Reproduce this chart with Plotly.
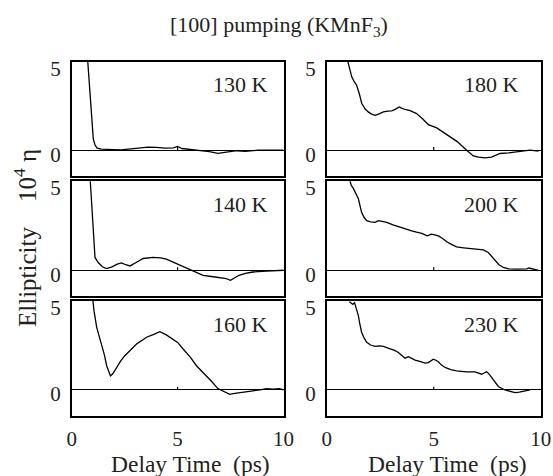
import plotly.graph_objects as go

# ---- data (delay time in ps, ellipticity in 1e-4) ----
t130 = [0.75, 0.85, 0.95, 1.02, 1.1, 1.2, 1.4, 1.8, 2.3, 2.8, 3.2, 3.6, 4.0, 4.4, 4.8, 5.0, 5.2, 5.6, 6.0, 6.5, 6.9, 7.1, 7.4, 7.8, 8.2, 8.8, 9.4, 10.0]
e130 = [5.3, 3.7, 1.8, 0.65, 0.3, 0.12, 0.06, 0.03, 0.02, 0.08, 0.12, 0.18, 0.16, 0.12, 0.14, 0.22, 0.1, 0.05, 0.0, -0.08, -0.18, -0.15, -0.1, -0.03, -0.06, 0.0, 0.0, 0.0]

t140 = [0.87, 0.95, 1.02, 1.1, 1.25, 1.45, 1.65, 1.9, 2.15, 2.35, 2.55, 2.75, 3.0, 3.37, 3.85, 4.2, 4.47, 4.7, 4.95, 5.2, 5.5, 5.85, 6.2, 6.6, 6.98, 7.3, 7.5, 7.7, 7.9, 8.2, 8.55, 9.2, 10.0]
e140 = [5.3, 3.5, 1.8, 0.74, 0.45, 0.2, 0.1, 0.2, 0.35, 0.42, 0.32, 0.25, 0.42, 0.68, 0.74, 0.72, 0.64, 0.52, 0.39, 0.25, 0.06, -0.12, -0.29, -0.36, -0.43, -0.48, -0.58, -0.42, -0.29, -0.18, -0.1, -0.05, 0.0]

t160 = [0.99, 1.05, 1.18, 1.3, 1.41, 1.55, 1.65, 1.75, 1.83, 1.95, 2.12, 2.3, 2.51, 2.8, 3.06, 3.3, 3.53, 3.85, 4.16, 4.45, 4.79, 5.0, 5.26, 5.6, 5.89, 6.1, 6.36, 6.6, 6.9, 7.2, 7.46, 7.7, 7.93, 8.2, 8.56, 8.9, 9.19, 9.5, 9.8, 10.0]
e160 = [5.3, 4.6, 3.62, 3.1, 2.66, 2.0, 1.4, 1.0, 0.81, 0.95, 1.3, 1.65, 1.98, 2.35, 2.66, 2.85, 3.05, 3.2, 3.37, 3.2, 2.95, 2.75, 2.37, 1.9, 1.4, 1.15, 0.81, 0.5, 0.08, -0.1, -0.25, -0.2, -0.15, -0.12, -0.05, 0.0, 0.08, 0.05, 0.08, 0.0]

t180 = [0.96, 1.05, 1.17, 1.28, 1.4, 1.52, 1.64, 1.8, 1.94, 2.1, 2.26, 2.45, 2.65, 2.85, 3.04, 3.2, 3.39, 3.5, 3.66, 3.9, 4.2, 4.5, 4.75, 5.14, 5.45, 5.76, 6.1, 6.54, 6.7, 6.85, 7.1, 7.4, 7.7, 8.1, 8.5, 8.88, 9.2, 9.5, 9.9]
e180 = [5.3, 4.8, 4.27, 4.0, 3.78, 3.3, 2.72, 2.4, 2.23, 2.1, 2.03, 2.12, 2.23, 2.28, 2.29, 2.38, 2.52, 2.45, 2.37, 2.3, 2.13, 1.8, 1.49, 1.3, 1.05, 0.78, 0.5, 0.0, -0.2, -0.33, -0.4, -0.44, -0.4, -0.19, -0.15, -0.1, -0.06, 0.0, -0.05]

t200 = [1.06, 1.15, 1.24, 1.35, 1.48, 1.63, 1.75, 1.87, 2.05, 2.26, 2.41, 2.6, 2.8, 3.1, 3.43, 3.7, 3.97, 4.2, 4.44, 4.7, 4.9, 5.05, 5.22, 5.4, 5.61, 5.85, 6.07, 6.4, 6.7, 7.0, 7.32, 7.55, 7.7, 7.87, 8.05, 8.26, 8.5, 8.88, 9.2, 9.35, 9.45, 9.55, 9.66, 9.9]
e200 = [5.3, 4.9, 4.75, 4.5, 4.13, 3.35, 3.05, 2.87, 2.8, 2.77, 2.87, 2.83, 2.77, 2.62, 2.48, 2.38, 2.28, 2.2, 2.13, 1.99, 2.09, 2.05, 1.99, 1.85, 1.65, 1.48, 1.35, 1.3, 1.26, 1.22, 1.18, 1.03, 0.8, 0.54, 0.32, 0.16, 0.08, 0.06, 0.05, 0.08, 0.13, 0.1, 0.06, 0.0]

t230 = [1.06, 1.15, 1.22, 1.3, 1.4, 1.48, 1.55, 1.63, 1.75, 1.87, 2.05, 2.26, 2.45, 2.65, 2.96, 3.15, 3.35, 3.5, 3.66, 3.82, 4.13, 4.35, 4.6, 4.75, 4.85, 4.98, 5.1, 5.22, 5.35, 5.53, 5.8, 6.07, 6.3, 6.54, 6.93, 7.24, 7.36, 7.48, 7.6, 7.71, 7.85, 8.02, 8.33, 8.6, 8.8, 9.0, 9.19, 9.5]
e230 = [5.1, 5.0, 4.95, 5.05, 4.7, 4.3, 3.8, 3.34, 3.0, 2.76, 2.6, 2.52, 2.55, 2.52, 2.37, 2.3, 2.17, 2.0, 1.84, 1.92, 1.73, 1.65, 1.55, 1.58, 1.68, 1.78, 1.72, 1.63, 1.45, 1.3, 1.18, 1.1, 1.08, 1.05, 1.05, 0.91, 0.98, 1.05, 0.9, 0.72, 0.45, 0.2, 0.0, -0.08, -0.15, -0.12, -0.08, 0.0]

temps = ["130 K", "180 K", "140 K", "200 K", "160 K", "230 K"]
x_ticks = [0, 5, 10]
y_ticks = [0, 5]
title_text = "[100] pumping (KMnF<sub>3</sub>)"
x_title = "Delay Time\u00a0\u00a0(ps)"
y_title = "Ellipticity\u00a0\u00a0\u00a0\u00a010<sup>4</sup>\u00a0\u03b7"

series = [(t130, e130), (t180, e180), (t140, e140), (t200, e200), (t160, e160), (t230, e230)]

W, H = 553, 476
FONT = "Liberation Serif"
INK = "#231f20"

col_px = [(71.7, 283.5), (326.7, 540.7)]
row_px = [(61.7, 176.0), (181.2, 296.2), (300.9, 415.9)]

fig = go.Figure()
layout = dict(
    width=W, height=H,
    margin=dict(l=0, r=0, t=0, b=0, autoexpand=False),
    paper_bgcolor="white", plot_bgcolor="white",
    showlegend=False,
    font=dict(family=FONT, color=INK, size=21),
)
annotations = []
shapes = []

for i, (ts, es) in enumerate(series):
    r, c = divmod(i, 2)
    k = i + 1
    xs = "" if k == 1 else str(k)
    x0, x1 = col_px[c]
    y0, y1 = row_px[r]
    layout[f"xaxis{xs}"] = dict(
        domain=[x0 / W, x1 / W], range=[0, 10], anchor=f"y{xs}",
        automargin=False,
        showline=True, mirror=True, linecolor="black", linewidth=1.5,
        showgrid=False, zeroline=False, tickvals=x_ticks, ticks="",
        showticklabels=(r == 2), ticklabelstandoff=3,
        tickfont=dict(size=21, family=FONT, color=INK),
    )
    layout[f"yaxis{xs}"] = dict(
        domain=[1 - y1 / H, 1 - y0 / H], range=[-1.5, 5.15], anchor=f"x{xs}",
        automargin=False,
        showline=True, mirror=True, linecolor="black", linewidth=1.5,
        showgrid=False, zeroline=True, zerolinecolor="black", zerolinewidth=1.2,
        tickvals=y_ticks, ticks="", ticklabelshift=4, ticklabelstandoff=5,
        tickfont=dict(size=21, family=FONT, color=INK),
    )
    fig.add_trace(go.Scatter(
        x=ts, y=es, mode="lines", xaxis=f"x{xs}", yaxis=f"y{xs}",
        line=dict(color="black", width=1.3), hoverinfo="skip",
    ))
    annotations.append(dict(
        text=temps[i], xref=f"x{xs}", yref=f"y{xs}",
        x=9.35 if c == 0 else 9.1, y=3.8, xanchor="right", yanchor="middle",
        showarrow=False, font=dict(size=22, family=FONT, color=INK),
    ))
    # small mark at the middle x tick on the zero line
    shapes.append(dict(
        type="line", xref=f"x{xs}", yref=f"y{xs}",
        x0=x_ticks[1], x1=x_ticks[1], y0=0, y1=0.18,
        line=dict(color="black", width=1.2),
    ))

annotations.append(dict(
    text=title_text, xref="paper", yref="paper", x=279 / W, y=1 - 26 / H,
    xanchor="center", yanchor="middle", showarrow=False,
    font=dict(size=22, family=FONT, color=INK),
))
for cx in (190, 447.5):
    annotations.append(dict(
        text=x_title, xref="paper", yref="paper", x=cx / W, y=1 - 463.5 / H,
        xanchor="center", yanchor="middle", showarrow=False,
        font=dict(size=23.5, family=FONT, color=INK),
    ))
annotations.append(dict(
    text=y_title, xref="paper", yref="paper", x=25 / W, y=1 - 238 / H,
    xanchor="center", yanchor="middle", textangle=-90, showarrow=False,
    font=dict(size=25, family=FONT, color=INK),
))

layout["annotations"] = annotations
layout["shapes"] = shapes
fig.update_layout(**layout)
fig.write_html("out.html")
